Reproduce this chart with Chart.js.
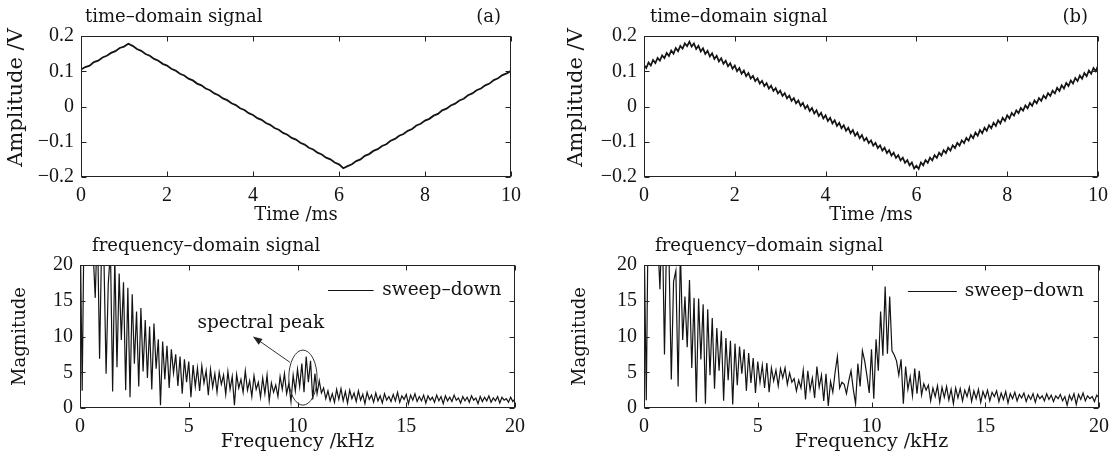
<!DOCTYPE html>
<html lang="en">
<head>
<meta charset="UTF-8">
<title>sweep-down signal</title>
<script src="https://cdn.jsdelivr.net/npm/chart.js"></script>
<style>
    body { margin: 0; background: #fff; }
    .painel { position: absolute; }
</style>
</head>
<body>
<canvas id="tempoA" class="painel" width="560" height="230" style="left:0;top:0"></canvas>
<canvas id="tempoB" class="painel" width="560" height="230" style="left:560px;top:0"></canvas>
<canvas id="freqA" class="painel" width="560" height="233" style="left:0;top:230px"></canvas>
<canvas id="freqB" class="painel" width="560" height="233" style="left:560px;top:230px"></canvas>

<script>
// ticks
const timeTicks = [0, 2, 4, 6, 8, 10];
const ampTicks = [-0.2, -0.1, 0, 0.1, 0.2];
const freqTicks = [0, 5, 10, 15, 20];
const magTicks = [0, 5, 10, 15, 20];

// sample spacing of each trace
const stepA = 0.1;   // ms
const stepB = 0.05;  // ms
const freqStep = 0.1; // kHz

// (a) time-domain signal, V
const signalA = [
    0.105, 0.112, 0.116, 0.126, 0.130, 0.139, 0.144, 0.152, 0.157, 0.166,
    0.170, 0.178, 0.172, 0.163, 0.158, 0.149, 0.144, 0.135, 0.130, 0.121,
    0.116, 0.107, 0.102, 0.093, 0.088, 0.079, 0.074, 0.065, 0.060, 0.051,
    0.046, 0.037, 0.032, 0.023, 0.018, 0.009, 0.004, -0.005, -0.010, -0.019,
    -0.024, -0.033, -0.038, -0.047, -0.052, -0.061, -0.066, -0.075, -0.080, -0.089,
    -0.094, -0.103, -0.108, -0.117, -0.122, -0.131, -0.136, -0.145, -0.150, -0.159,
    -0.164, -0.175, -0.169, -0.164, -0.155, -0.150, -0.140, -0.135, -0.126, -0.121,
    -0.112, -0.107, -0.097, -0.092, -0.083, -0.078, -0.069, -0.064, -0.054, -0.049,
    -0.040, -0.035, -0.026, -0.021, -0.011, -0.006, 0.003, 0.008, 0.017, 0.022,
    0.032, 0.037, 0.046, 0.051, 0.060, 0.065, 0.075, 0.080, 0.089, 0.094,
    0.101
];

// (b) time-domain signal, V (with ripple)
const signalB = [
    0.118, 0.109, 0.125, 0.116, 0.132, 0.123, 0.138, 0.130, 0.145, 0.137,
    0.152, 0.143, 0.159, 0.150, 0.166, 0.157, 0.172, 0.164, 0.179, 0.171,
    0.184, 0.170, 0.179, 0.163, 0.172, 0.156, 0.165, 0.149, 0.158, 0.142,
    0.151, 0.135, 0.144, 0.128, 0.137, 0.121, 0.130, 0.114, 0.123, 0.107,
    0.116, 0.100, 0.109, 0.093, 0.102, 0.086, 0.095, 0.079, 0.087, 0.072,
    0.080, 0.065, 0.073, 0.058, 0.066, 0.051, 0.059, 0.044, 0.052, 0.037,
    0.045, 0.030, 0.038, 0.023, 0.031, 0.016, 0.024, 0.009, 0.017, 0.002,
    0.010, -0.006, 0.003, -0.013, -0.004, -0.020, -0.011, -0.027, -0.018, -0.034,
    -0.025, -0.041, -0.032, -0.048, -0.039, -0.055, -0.046, -0.062, -0.053, -0.069,
    -0.060, -0.076, -0.067, -0.083, -0.074, -0.090, -0.081, -0.097, -0.089, -0.104,
    -0.096, -0.111, -0.103, -0.118, -0.110, -0.125, -0.117, -0.132, -0.124, -0.139,
    -0.131, -0.146, -0.138, -0.153, -0.145, -0.160, -0.152, -0.167, -0.159, -0.176,
    -0.168, -0.177, -0.159, -0.167, -0.152, -0.160, -0.145, -0.153, -0.138, -0.146,
    -0.131, -0.139, -0.124, -0.132, -0.117, -0.125, -0.110, -0.118, -0.103, -0.111,
    -0.096, -0.104, -0.089, -0.097, -0.081, -0.090, -0.074, -0.083, -0.067, -0.076,
    -0.060, -0.069, -0.053, -0.062, -0.046, -0.055, -0.039, -0.048, -0.032, -0.041,
    -0.025, -0.034, -0.018, -0.026, -0.011, -0.019, -0.004, -0.012, 0.003, -0.005,
    0.010, 0.002, 0.017, 0.009, 0.024, 0.016, 0.031, 0.023, 0.038, 0.030,
    0.045, 0.037, 0.053, 0.044, 0.060, 0.051, 0.067, 0.058, 0.074, 0.065,
    0.081, 0.072, 0.088, 0.079, 0.095, 0.086, 0.102, 0.093, 0.109, 0.100,
    0.116
];

// (a) spectrum magnitude
const spectrumA = [
    28, 2.4, 30, 34, 31, 26, 22, 15.4, 26, 6.9,
    24, 21, 4.8, 17.4, 22, 2.3, 21, 5.7, 18.8, 9.5,
    17.6, 2.5, 16.8, 1.5, 15.9, 6.2, 13.5, 3.0, 14.0, 5.1,
    12.3, 4.2, 11.4, 2.6, 11.8, 5.5, 9.6, 0.4, 9.3, 4.0,
    8.7, 2.8, 8.2, 4.9, 7.5, 3.1, 7.2, 2.0, 6.8, 3.6,
    6.5, 1.5, 6.0, 3.0, 5.6, 2.4, 5.9, 3.5, 5.2, 1.8,
    5.4, 2.9, 4.8, 2.2, 5.0, 3.3, 4.6, 1.9, 5.1, 2.6,
    4.4, 0.4, 4.7, 2.8, 4.0, 2.2, 5.2, 2.5, 3.8, 1.6,
    4.5, 2.6, 3.6, 1.5, 4.2, 2.0, 4.6, 1.0, 3.5, 2.2,
    3.2, 1.6, 4.4, 2.6, 4.8, 2.0, 3.4, 0.9, 4.6, 2.4,
    5.4, 3.0, 6.2, 2.2, 7.2, 3.6, 6.6, 1.2, 4.8, 2.0,
    3.8, 2.1, 2.8, 1.3, 2.4, 1.0, 2.0, 0.8, 2.6, 1.2,
    2.7, 1.0, 2.3, 0.7, 2.5, 1.3, 2.1, 0.9, 2.4, 1.1,
    1.9, 0.6, 2.2, 1.2, 1.8, 0.8, 2.1, 1.0, 1.7, 0.7,
    2.0, 1.1, 1.6, 0.9, 1.9, 1.0, 2.2, 0.8, 1.7, 1.2,
    1.9, 0.6, 1.8, 1.1, 2.0, 0.9, 1.6, 1.0, 1.8, 0.7,
    1.7, 1.1, 1.5, 0.8, 1.8, 1.0, 1.6, 0.6, 1.7, 1.0,
    1.5, 0.9, 1.8, 1.1, 1.4, 0.7, 1.6, 1.0, 1.5, 0.8,
    1.7, 1.1, 1.4, 0.6, 1.6, 0.9, 1.5, 1.0, 1.7, 0.8,
    1.4, 1.0, 1.6, 0.7, 1.5, 1.1, 1.3, 0.8, 1.5, 0.9,
    1.3
];

// (b) spectrum magnitude
const spectrumB = [
    26, 1.1, 32, 36, 33, 28, 24, 16.6, 27, 7.5,
    25, 21, 4.0, 17.7, 19.2, 3.0, 22, 9.5, 15.6, 8.5,
    17.9, 5.6, 15.4, 0.8, 15.3, 6.8, 14.5, 0.6, 13.8, 4.6,
    12.6, 2.7, 11.2, 5.2, 10.8, 1.0, 9.8, 3.9, 9.4, 0.5,
    9.0, 3.2, 8.6, 4.8, 8.2, 2.4, 7.7, 3.5, 7.0, 2.1,
    6.5, 3.6, 6.0, 2.8, 6.3, 2.2, 5.6, 3.8, 5.3, 3.1,
    5.5, 4.2, 5.6, 3.3, 4.9, 3.6, 4.1, 2.4, 3.9, 2.8,
    5.3, 1.2, 5.2, 2.5, 4.2, 1.4, 5.8, 2.9, 4.6, 1.0,
    4.8, 0.3, 3.7, 2.2, 5.0, 7.2, 2.8, 3.6, 3.3, 2.0,
    3.8, 5.2, 2.6, 0.6, 6.2, 3.0, 8.0, 6.6, 4.5, 2.1,
    8.2, 1.3, 9.6, 5.2, 13.5, 7.3, 17.0, 7.6, 15.6, 8.0,
    7.4, 6.6, 4.6, 6.8, 0.6, 5.8, 2.6, 4.4, 1.7, 5.5,
    2.0, 5.2, 1.8, 3.4, 2.5, 3.2, 1.0, 2.8, 1.6, 3.1,
    0.8, 2.9, 1.5, 3.0, 1.1, 2.6, 0.6, 2.8, 1.4, 2.7,
    1.0, 2.5, 1.6, 2.9, 0.9, 2.4, 1.3, 2.6, 0.8, 2.3,
    1.4, 2.5, 1.0, 2.2, 1.6, 2.4, 0.9, 2.1, 1.2, 2.3,
    0.7, 2.0, 1.3, 2.2, 1.0, 1.9, 1.4, 2.1, 0.9, 1.8,
    1.2, 2.0, 0.8, 1.9, 1.3, 1.7, 1.0, 2.0, 1.2, 1.8,
    0.9, 1.7, 1.3, 1.9, 1.0, 1.6, 0.4, 1.8, 1.1, 2.0,
    0.5, 1.9, 1.2, 2.1, 1.0, 1.7, 1.3, 1.6, 0.9, 1.8,
    1.4
];

const tinta = '#141414';
const serifTexto = 'DejaVu Serif';
const serifNum = 'Liberation Serif';

function pontos(valores, passo) {
    return valores.map(function (v, i) { return { x: i * passo, y: v }; });
}

function fmtNum(v) {
    if (v === 0) return '0';
    return (v < 0 ? '\u2212' : '') + String(Math.abs(v));
}

// frame with inward ticks, panel texts, y title, legend and annotation
const moldura = {
    id: 'moldura',
    afterDraw(chart, args, opts) {
        const ctx = chart.ctx;
        const a = chart.chartArea;
        const sx = chart.scales.x;
        const sy = chart.scales.y;
        ctx.save();
        ctx.strokeStyle = '#222';
        ctx.lineWidth = 1;
        const l = Math.round(a.left) + 0.5, r = Math.round(a.right) - 0.5;
        const t = Math.round(a.top) + 0.5, b = Math.round(a.bottom) - 0.5;
        ctx.strokeRect(l, t, r - l, b - t);
        ctx.beginPath();
        sx.ticks.forEach(function (k) {
            const px = Math.round(sx.getPixelForValue(k.value)) + 0.5;
            ctx.moveTo(px, b); ctx.lineTo(px, b - 5);
            ctx.moveTo(px, t); ctx.lineTo(px, t + 5);
        });
        sy.ticks.forEach(function (k) {
            const py = Math.round(sy.getPixelForValue(k.value)) + 0.5;
            ctx.moveTo(l, py); ctx.lineTo(l + 5, py);
            ctx.moveTo(r, py); ctx.lineTo(r - 5, py);
        });
        ctx.stroke();

        ctx.fillStyle = tinta;
        ctx.textBaseline = 'middle';
        ctx.font = '18px "' + serifTexto + '"';
        ctx.textAlign = 'left';
        ctx.fillText(opts.titulo, a.left + opts.tituloX, a.top - 19);
        if (opts.letra) {
            ctx.textAlign = 'right';
            ctx.fillText(opts.letra, a.right - 10, a.top - 19);
        }

        // rotated y title
        const yt = opts.yTitulo;
        ctx.save();
        ctx.translate(yt.x, (a.top + a.bottom) / 2 + yt.dy);
        ctx.rotate(-Math.PI / 2);
        ctx.textAlign = 'center';
        ctx.font = yt.tamanho + 'px "' + serifTexto + '"';
        ctx.fillText(yt.texto, 0, 0);
        ctx.restore();

        if (opts.legenda) {
            const lg = opts.legenda;
            const ds = chart.data.datasets[0];
            const yl = Math.round(sy.getPixelForValue(lg.mag)) + 0.5;
            ctx.strokeStyle = ds.borderColor;
            ctx.lineWidth = 1.2;
            ctx.beginPath();
            ctx.moveTo(sx.getPixelForValue(lg.de), yl);
            ctx.lineTo(sx.getPixelForValue(lg.ate), yl);
            ctx.stroke();
            ctx.font = '18.5px "' + serifTexto + '"';
            ctx.textAlign = 'left';
            ctx.fillText(ds.label, sx.getPixelForValue(lg.texto), yl);
        }

        if (opts.nota) {
            const n = opts.nota;
            ctx.strokeStyle = '#333';
            ctx.lineWidth = 1;
            const cx = sx.getPixelForValue(n.centro[0]);
            const cy = sy.getPixelForValue(n.centro[1]);
            const rx = sx.getPixelForValue(n.centro[0] + n.raio[0]) - cx;
            const ry = cy - sy.getPixelForValue(n.centro[1] + n.raio[1]);
            ctx.beginPath();
            ctx.ellipse(cx, cy, rx, ry, 0, 0, Math.PI * 2);
            ctx.stroke();
            // arrow
            const x0 = sx.getPixelForValue(n.de[0]), y0 = sy.getPixelForValue(n.de[1]);
            const x1 = sx.getPixelForValue(n.para[0]), y1 = sy.getPixelForValue(n.para[1]);
            const ang = Math.atan2(y1 - y0, x1 - x0);
            ctx.beginPath();
            ctx.moveTo(x0, y0);
            ctx.lineTo(x1 - 6 * Math.cos(ang), y1 - 6 * Math.sin(ang));
            ctx.stroke();
            ctx.fillStyle = '#222';
            ctx.beginPath();
            ctx.moveTo(x1, y1);
            ctx.lineTo(x1 - 10 * Math.cos(ang - 0.35), y1 - 10 * Math.sin(ang - 0.35));
            ctx.lineTo(x1 - 10 * Math.cos(ang + 0.35), y1 - 10 * Math.sin(ang + 0.35));
            ctx.closePath();
            ctx.fill();
            ctx.fillStyle = tinta;
            ctx.font = '18.5px "' + serifTexto + '"';
            ctx.textAlign = 'left';
            ctx.fillText(n.texto, sx.getPixelForValue(n.textoEm[0]), sy.getPixelForValue(n.textoEm[1]));
        }
        ctx.restore();
    }
};

function criarPainel(id, cfg) {
    const canvas = document.getElementById(id);
    return new Chart(canvas, {
        type: 'line',
        data: {
            datasets: [{
                label: cfg.label,
                data: cfg.data,
                borderColor: tinta,
                borderWidth: cfg.espessura,
                pointRadius: 0,
                tension: 0,
                fill: false
            }]
        },
        options: {
            responsive: false,
            animation: false,
            devicePixelRatio: 1,
            layout: { padding: { top: cfg.area.top, right: canvas.width - cfg.area.right, left: 0, bottom: 0 } },
            plugins: {
                legend: { display: false },
                tooltip: { enabled: false },
                moldura: cfg.textos
            },
            scales: {
                x: {
                    type: 'linear',
                    min: cfg.xTicks[0],
                    max: cfg.xTicks[cfg.xTicks.length - 1],
                    afterBuildTicks: function (s) { s.ticks = cfg.xTicks.map(function (v) { return { value: v }; }); },
                    afterFit: function (s) { s.height = canvas.height - cfg.area.bottom; },
                    grid: { display: false, drawTicks: false },
                    border: { display: false },
                    ticks: {
                        padding: 7,
                        color: tinta,
                        font: { family: serifNum, size: 20 },
                        maxRotation: 0,
                        callback: fmtNum
                    },
                    title: {
                        display: true,
                        text: cfg.xTitulo,
                        color: tinta,
                        font: { family: serifTexto, size: cfg.xTamanho },
                        padding: { top: 0, bottom: cfg.xPad }
                    }
                },
                y: {
                    type: 'linear',
                    min: cfg.yTicks[0],
                    max: cfg.yTicks[cfg.yTicks.length - 1],
                    afterBuildTicks: function (s) { s.ticks = cfg.yTicks.map(function (v) { return { value: v }; }); },
                    afterFit: function (s) { s.width = cfg.area.left; },
                    grid: { display: false, drawTicks: false },
                    border: { display: false },
                    ticks: {
                        padding: 7,
                        color: tinta,
                        font: { family: serifNum, size: 20 },
                        callback: fmtNum
                    },
                    title: { display: false }
                }
            }
        },
        plugins: [moldura]
    });
}

criarPainel('tempoA', {
    label: 'signal', data: pontos(signalA, stepA), espessura: 1.8,
    area: { left: 81, right: 511, top: 36, bottom: 177 },
    xTicks: timeTicks, yTicks: ampTicks,
    xTitulo: 'Time /ms', xTamanho: 18, xPad: 4,
    textos: {
        titulo: 'time\u2013domain signal', tituloX: 4, letra: '(a)',
        yTitulo: { texto: 'Amplitude /V', tamanho: 21, x: 17, dy: -9 }
    }
});

criarPainel('tempoB', {
    label: 'signal', data: pontos(signalB, stepB), espessura: 1.7,
    area: { left: 84, right: 538, top: 36, bottom: 177 },
    xTicks: timeTicks, yTicks: ampTicks,
    xTitulo: 'Time /ms', xTamanho: 18, xPad: 4,
    textos: {
        titulo: 'time\u2013domain signal', tituloX: 6, letra: '(b)',
        yTitulo: { texto: 'Amplitude /V', tamanho: 21, x: 17, dy: -9 }
    }
});

criarPainel('freqA', {
    label: 'sweep\u2013down', data: pontos(spectrumA, freqStep), espessura: 1.2,
    area: { left: 80, right: 515, top: 35, bottom: 178 },
    xTicks: freqTicks, yTicks: magTicks,
    xTitulo: 'Frequency /kHz', xTamanho: 19, xPad: 10,
    textos: {
        titulo: 'frequency\u2013domain signal', tituloX: 12,
        yTitulo: { texto: 'Magnitude', tamanho: 18, x: 20, dy: 0 },
        legenda: { de: 11.4, ate: 13.5, texto: 13.9, mag: 16.5 },
        nota: {
            texto: 'spectral peak', textoEm: [5.4, 11.9],
            centro: [10.25, 4.25], raio: [0.65, 3.85],
            de: [9.65, 6.4], para: [7.95, 10.0]
        }
    }
});

criarPainel('freqB', {
    label: 'sweep\u2013down', data: pontos(spectrumB, freqStep), espessura: 1.2,
    area: { left: 84, right: 539, top: 35, bottom: 178 },
    xTicks: freqTicks, yTicks: magTicks,
    xTitulo: 'Frequency /kHz', xTamanho: 19, xPad: 10,
    textos: {
        titulo: 'frequency\u2013domain signal', tituloX: 11,
        yTitulo: { texto: 'Magnitude', tamanho: 18, x: 20, dy: 0 },
        legenda: { de: 11.6, ate: 13.75, texto: 14.1, mag: 16.3 }
    }
});
</script>
</body>
</html>
